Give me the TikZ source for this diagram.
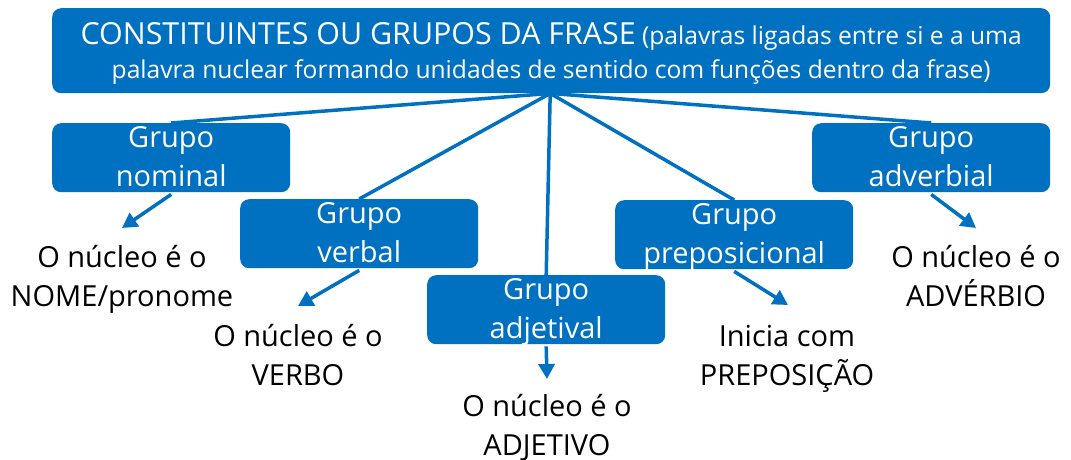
\documentclass[tikz,border=0pt]{standalone}
\usepackage{fontspec}
\setmainfont{Open Sans}
\usetikzlibrary{arrows.meta}
\definecolor{blu}{HTML}{0070C0}
\newcommand\boxtxt[2]{\parbox[t][69pt][t]{238pt}{\centering\fontsize{29}{39}\selectfont\rule{0pt}{24pt}#1\\#2}}
\newcommand\lbltxt[2]{\parbox[t]{260pt}{\centering\fontsize{29}{39}\selectfont #1\\#2}}
\tikzset{
  grpbox/.style={fill=blu, text=white, rounded corners=9pt, inner sep=0pt, anchor=north west},
  lbl/.style={inner sep=0pt, anchor=base, text=black},
  link/.style={draw=blu, line width=3.5pt},
  arr/.style={draw=blu, line width=3.5pt, -{Triangle[length=15pt,width=16pt]}}
}
\begin{document}
\begin{tikzpicture}[x=1pt, y={(0pt,-1pt)}]
\useasboundingbox (0,0) rectangle (1071,459);
\node[grpbox] (top) at (52,8) {\parbox[t][85pt][t]{998pt}{\centering\fontsize{24.6}{34}\selectfont\rule{0pt}{36pt}{\fontsize{30.4}{34}\selectfont CONSTITUINTES OU GRUPOS DA FRASE} (palavras ligadas entre si e a uma\\palavra nuclear formando unidades de sentido com funções dentro da frase)}};
\node[grpbox] (nom) at (52,123) {\boxtxt{Grupo}{nominal}};
\node[grpbox] (ver) at (240,199) {\boxtxt{Grupo}{verbal}};
\node[grpbox] (adj) at (427,275) {\boxtxt{Grupo}{adjetival}};
\node[grpbox] (pre) at (615,200) {\boxtxt{Grupo}{preposicional}};
\node[grpbox] (adv) at (812,123) {\boxtxt{Grupo}{adverbial}};
\coordinate (hub) at ([xshift=-1pt]top.south);
\foreach \n in {nom,ver,adj,pre,adv} \draw[link] (hub) -- (\n.north);
\coordinate (tnom) at (122,228);
\coordinate (tver) at (298,306);
\coordinate (tadj) at (547,379);
\coordinate (tpre) at (788,305);
\coordinate (tadv) at (976,228);
\foreach \n in {nom,ver,adj,pre,adv} \draw[arr] ([yshift=-2pt]\n.south) -- (t\n);
\node[lbl] (lnom) at (122,267) {\lbltxt{O núcleo é o}{NOME/pronome}};
\node[lbl] (lver) at (298,346) {\lbltxt{O núcleo é o}{VERBO}};
\node[lbl] (ladj) at (547,416) {\lbltxt{O núcleo é o}{ADJETIVO}};
\node[lbl] (lpre) at (787,346) {\lbltxt{Inicia com}{PREPOSIÇÃO}};
\node[lbl] (ladv) at (976,267) {\lbltxt{O núcleo é o}{ADVÉRBIO}};
\end{tikzpicture}
\end{document}
